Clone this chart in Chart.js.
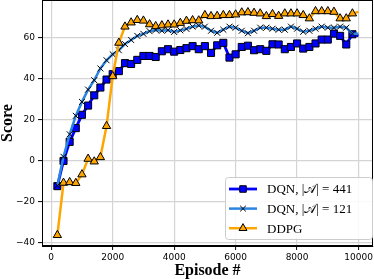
<!DOCTYPE html>
<html>
<head>
<meta charset="utf-8">
<script src="https://cdn.jsdelivr.net/npm/chart.js@4.4.1/dist/chart.umd.min.js"></script>
<style>
  html, body { margin: 0; padding: 0; background: #fff; }
  #wrap { width: 374px; height: 279px; }
</style>
</head>
<body>
<div id="wrap"><canvas id="chart"></canvas></div>
<script>
// Datos
const episodes = [
    200, 400, 600, 800, 1000, 1200, 1400, 1600, 1800, 2000,
    2200, 2400, 2600, 2800, 3000, 3200, 3400, 3600, 3800, 4000,
    4200, 4400, 4600, 4800, 5000, 5200, 5400, 5600, 5800, 6000,
    6200, 6400, 6600, 6800, 7000, 7200, 7400, 7600, 7800, 8000,
    8200, 8400, 8600, 8800, 9000, 9200, 9400, 9600, 9800, 10000
];
const dqn441 = [
    -12.3, 0, 9.3, 16, 22.5, 27, 32, 35.8, 39.7, 42.3,
    43.8, 47.7, 47.3, 49.3, 51.2, 51.2, 50.7, 53.5, 54.5, 53.3,
    54.1, 55, 56, 54.5, 56, 52.7, 56.4, 57.6, 50.4, 52,
    55.6, 56.2, 54, 54.5, 53.7, 56.9, 56.8, 54.5, 55.6, 57.3,
    54.8, 55.6, 57.3, 59.2, 59.2, 62.1, 61, 56.8, 61.8, 61
];
const dqn121 = [
    -12, 2, 13, 22, 28.8, 34.8, 39.4, 45.1, 49.1, 52,
    54, 57, 59, 61, 62, 63.3, 63.9, 63.5, 63.8, 62.9,
    63.7, 64.4, 65.5, 66, 65.5, 63.5, 62.5, 64, 65.5, 65,
    63.5, 62.3, 63.5, 65, 65, 64.5, 64, 64, 65.5, 64.5,
    63, 63.5, 64.5, 65.5, 65, 65, 65.5, 65, 62, 62
];
const ddpg = [
    -36.2, -10.7, -10.4, -10.8, -6.6, 1, -0.3, 1.8, 17, 41.3,
    57.6, 65.5, 67.5, 68.7, 68.4, 66.6, 65.7, 66.1, 66.5, 66.5,
    67.3, 68.3, 68.6, 68.5, 71.1, 70.6, 70.7, 71.1, 71.1, 71.4,
    72.4, 72.5, 72.2, 71.9, 70.6, 71.6, 70.7, 71.9, 71.9, 71.9,
    71.1, 69.5, 73, 73, 73, 72.7, 69.5, 69.5, 71.9, 72.7
];
const seriesLabels = ['DQN, |\u{1D49C}| = 441', 'DQN, |\u{1D49C}| = 121', 'DDPG'];
const xTicks = [0, 2000, 4000, 6000, 8000, 10000];
const yTicks = [-40, -20, 0, 20, 40, 60];

const TICK_FONT = { family: "'DejaVu Sans', sans-serif", size: 9 };
const SERIF = "'Liberation Serif', 'DejaVu Serif', serif";

// Convierte los arrays a puntos {x, y}
function toPoints(values) {
    return values.map((v, i) => ({ x: episodes[i], y: v }));
}

// Sin marcador en el último punto (como en la figura original)
function markerRadius(r) {
    return ctx => (ctx.dataIndex === episodes.length - 1 ? 0 : r);
}

function makeDataset(label, values, color, style, r, width, order) {
    return {
        label: label,
        data: toPoints(values),
        borderColor: color,
        backgroundColor: color,
        borderWidth: width,
        pointStyle: style,
        pointRadius: markerRadius(r),
        pointHoverRadius: markerRadius(r),
        pointBackgroundColor: color,
        pointBorderColor: '#000',
        pointBorderWidth: 1,
        tension: 0,
        order: order
    };
}

// Dibuja un marcador (usado en la leyenda)
function drawMarker(ctx, style, x, y, r, fill) {
    ctx.save();
    ctx.fillStyle = fill;
    ctx.strokeStyle = '#000';
    ctx.lineWidth = 1;
    ctx.beginPath();
    if (style === 'rect') {
        const s = Math.SQRT1_2 * r;
        ctx.rect(x - s, y - s, 2 * s, 2 * s);
        ctx.fill();
        ctx.stroke();
    } else if (style === 'triangle') {
        ctx.moveTo(x, y - r);
        ctx.lineTo(x + r * 0.866, y + r * 0.5);
        ctx.lineTo(x - r * 0.866, y + r * 0.5);
        ctx.closePath();
        ctx.fill();
        ctx.stroke();
    } else {
        const o = Math.SQRT1_2 * r;
        ctx.moveTo(x - o, y - o);
        ctx.lineTo(x + o, y + o);
        ctx.moveTo(x + o, y - o);
        ctx.lineTo(x - o, y + o);
        ctx.stroke();
    }
    ctx.restore();
}

// Marco completo y leyenda dentro del área del gráfico
const framePlugin = {
    id: 'frameAndLegend',
    afterDraw(chart) {
        const { ctx, chartArea } = chart;
        ctx.save();
        ctx.strokeStyle = '#000';
        ctx.lineWidth = 1;
        ctx.strokeRect(chartArea.left + 0.5, chartArea.top + 0.5,
            chartArea.right - chartArea.left - 1, chartArea.bottom - chartArea.top - 1);

        // Leyenda
        const boxW = 147, boxH = 62;
        const bx = chartArea.right - boxW - 0.5;
        const by = chartArea.bottom - 6.5 - boxH;
        ctx.beginPath();
        ctx.roundRect(bx, by, boxW, boxH, 3);
        ctx.fillStyle = 'rgba(255,255,255,0.85)';
        ctx.fill();
        ctx.strokeStyle = '#cccccc';
        ctx.stroke();

        ctx.font = '13px ' + SERIF;
        ctx.textBaseline = 'middle';
        chart.data.datasets.forEach((ds, i) => {
            const y = by + 11.5 + i * 19.6;
            const x0 = bx + 3.5;
            ctx.beginPath();
            ctx.strokeStyle = ds.borderColor;
            ctx.lineWidth = ds.borderWidth;
            ctx.moveTo(x0, y);
            ctx.lineTo(x0 + 28, y);
            ctx.stroke();
            drawMarker(ctx, ds.pointStyle, x0 + 14, y, ds.pointStyle === 'crossRot' ? 4 : 4.6, ds.pointBackgroundColor);
            ctx.fillStyle = '#000';
            ctx.fillText(ds.label, x0 + 38, y + 1);
        });
        ctx.restore();
    }
};

const minusSign = v => String(v).replace('-', '\u2212');

// Quita el relleno automático que Chart.js reserva para las etiquetas extremas
function noEdgePadding(scale) {
    scale.paddingTop = 0;
    scale.paddingBottom = 0;
    scale.paddingLeft = 0;
    scale.paddingRight = 0;
}

new Chart(document.getElementById('chart'), {
    type: 'line',
    data: {
        datasets: [
            makeDataset(seriesLabels[0], dqn441, '#0000ff', 'rect', 5, 2.8, 2),
            makeDataset(seriesLabels[1], dqn121, '#2a86e0', 'crossRot', 4.2, 2.5, 1),
            makeDataset(seriesLabels[2], ddpg, '#ffa500', 'triangle', 4.8, 2.5, 0)
        ]
    },
    plugins: [framePlugin],
    options: {
        responsive: true,
        maintainAspectRatio: false,
        animation: false,
        layout: { autoPadding: false, padding: { top: 0, right: 1, bottom: 0, left: 0 } },
        plugins: {
            legend: { display: false },
            tooltip: { enabled: false }
        },
        scales: {
            x: {
                type: 'linear',
                min: -300,
                max: 10470,
                afterBuildTicks: scale => { scale.ticks = xTicks.map(v => ({ value: v })); },
                afterFit: scale => { scale.height = 33; noEdgePadding(scale); },
                grid: { color: '#d4d4d4', lineWidth: 1.2, tickColor: '#000', tickLength: 4, tickWidth: 1 },
                border: { color: '#000', width: 1 },
                ticks: { font: TICK_FONT, color: '#000', padding: 2, maxRotation: 0, callback: v => minusSign(v) },
                title: {
                    display: true,
                    text: 'Episode #',
                    color: '#000',
                    font: { family: SERIF, size: 16, weight: 'bold', lineHeight: 1 },
                    padding: 0
                }
            },
            y: {
                type: 'linear',
                min: -41.5,
                max: 78.5,
                afterBuildTicks: scale => { scale.ticks = yTicks.map(v => ({ value: v })); },
                afterFit: scale => { scale.width = 42; noEdgePadding(scale); },
                grid: { color: '#d4d4d4', lineWidth: 1.2, tickColor: '#000', tickLength: 4, tickWidth: 1 },
                border: { color: '#000', width: 1 },
                ticks: { font: TICK_FONT, color: '#000', padding: 3, callback: v => minusSign(v) },
                title: {
                    display: true,
                    text: 'Score',
                    color: '#000',
                    font: { family: SERIF, size: 16, weight: 'bold', lineHeight: 1 },
                    padding: 0
                }
            }
        }
    }
});
</script>
</body>
</html>
